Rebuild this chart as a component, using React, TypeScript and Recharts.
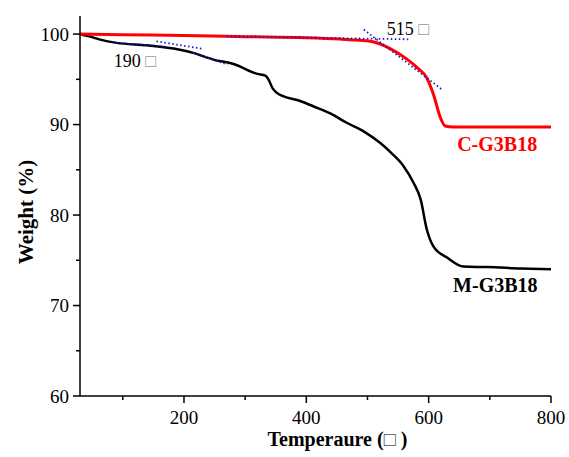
import React from 'react';
import { LineChart, Line, XAxis, YAxis, ReferenceDot } from 'recharts';

// M-G3B18 (black)
const mTemp = [30, 45, 63, 90, 139, 183, 205, 215, 248, 281, 320, 333, 338, 345, 352, 360, 390, 412, 440, 466, 495, 521, 540, 559, 575, 587, 597, 608, 630, 657, 696, 750, 800];
const mWeight = [100, 99.75, 99.39, 99.03, 98.76, 98.4, 98.1, 97.92, 97.18, 96.7, 95.6, 95.4, 95.0, 94.0, 93.5, 93.2, 92.6, 92.0, 91.2, 90.2, 89.2, 87.96, 86.8, 85.4, 83.6, 81.7, 78.4, 76.5, 75.3, 74.3, 74.25, 74.1, 74.0];

// C-G3B18 (red)
const cTemp = [30, 100, 200, 300, 400, 455, 480, 505, 537, 565, 581, 597, 608, 619, 627, 640, 700, 800];
const cWeight = [100, 99.93, 99.85, 99.72, 99.6, 99.45, 99.35, 99.2, 98.4, 97.2, 96.3, 95.15, 93.3, 90.8, 89.85, 89.73, 89.72, 89.72];

// onset tangent lines (blue dotted)
const tangents = [
  { t: [90, 169], w: [99.03, 98.62] },
  { t: [155, 232], w: [99.2, 98.36] },
  { t: [215, 271], w: [97.95, 96.63] },
  { t: [270, 570], w: [99.76, 99.42] },
  { t: [494, 622], w: [100.5, 93.86] },
];

const xTicks = [100, 200, 300, 400, 500, 600, 700, 800];
const yTicks = [60, 65, 70, 75, 80, 85, 90, 95, 100];
const frameTicks = [0, 1, 2, 3, 4, 5, 6, 7, 8, 9, 10];

const zip = (t: number[], w: number[]) => t.map((v, i) => ({ t: v, w: w[i] }));
const mData = zip(mTemp, mWeight);
const cData = zip(cTemp, cWeight);

const font = '"Liberation Serif", "Times New Roman", serif';

const XTick = ({ x, y, payload }: any) => {
  const major = payload.value % 200 === 0;
  return (
    <g>
      <line x1={x} x2={x} y1={y} y2={y + (major ? 7 : 4)} stroke="#000" strokeWidth={1.5} />
      {major && (
        <text x={x} y={y + 28} textAnchor="middle" fontSize={19} fontFamily={font} fill="#000">
          {payload.value}
        </text>
      )}
    </g>
  );
};

const YTick = ({ x, y, payload }: any) => {
  const major = payload.value % 10 === 0;
  return (
    <g>
      <line x1={x} x2={x - (major ? 7 : 4)} y1={y} y2={y} stroke="#000" strokeWidth={1.5} />
      {major && (
        <text x={x - 11} y={y} dy="0.35em" textAnchor="end" fontSize={19} fontFamily={font} fill="#000">
          {payload.value}
        </text>
      )}
    </g>
  );
};

const TopTick = ({ x, y }: any) => (
  <line x1={x} x2={x} y1={y} y2={y - 2} stroke="#000" strokeWidth={1.2} />
);

const RightTick = ({ x, y }: any) => (
  <line x1={x} x2={x + 3} y1={y} y2={y} stroke="#000" strokeWidth={1.2} />
);

const XTitle = ({ viewBox }: any) => (
  <text x={viewBox.x + viewBox.width / 2 + 22} y={viewBox.y + 50} textAnchor="middle" fontSize={20} fontWeight="bold" fontFamily={font} fill="#000">
    Temperaure (<tspan fill="#555" fontWeight="normal">□</tspan> )
  </text>
);

const YTitle = ({ viewBox }: any) => {
  const cx = 33;
  const cy = viewBox.y + viewBox.height / 2 + 6;
  return (
    <text x={cx} y={cy} transform={`rotate(-90, ${cx}, ${cy})`} textAnchor="middle" fontSize={21} fontWeight="bold" fontFamily={font} fill="#000">
      Weight (%)
    </text>
  );
};

const note = (text: string, color: string, bold: boolean, size: number, box: boolean) => ({ viewBox }: any) => (
  <text x={viewBox.x + viewBox.width / 2} y={viewBox.y + viewBox.height / 2} dy="0.35em" textAnchor="middle" fontSize={size} fontWeight={bold ? 'bold' : 'normal'} fontFamily={font} fill={color}>
    {text}
    {box && <tspan fill="#999"> □</tspan>}
  </text>
);

export default function App() {
  return (
    <div style={{ position: 'absolute', left: 0, top: 0, background: '#fff' }}>
      <LineChart width={569} height={457} margin={{ top: 16, right: 18, bottom: 0, left: 10 }}>
        <XAxis
          xAxisId="t"
          dataKey="t"
          type="number"
          domain={[30, 800]}
          ticks={xTicks}
          allowDataOverflow
          height={61}
          tickSize={0}
          tickMargin={0}
          tick={<XTick />}
          axisLine={{ stroke: '#000', strokeWidth: 1.5 }}
          label={{ content: XTitle }}
        />
        <XAxis
          xAxisId="top"
          orientation="top"
          type="number"
          domain={[0, 10]}
          ticks={frameTicks}
          allowDataOverflow
          height={0}
          tickSize={0}
          tickMargin={0}
          tick={<TopTick />}
          axisLine={{ stroke: '#000', strokeWidth: 1.5 }}
        />
        <YAxis
          yAxisId="w"
          type="number"
          domain={[60, 102]}
          ticks={yTicks}
          allowDataOverflow
          width={70}
          tickSize={0}
          tickMargin={0}
          tick={<YTick />}
          axisLine={{ stroke: '#000', strokeWidth: 1.5 }}
          label={{ content: YTitle }}
        />
        <YAxis
          yAxisId="right"
          orientation="right"
          type="number"
          domain={[0, 10]}
          ticks={frameTicks}
          allowDataOverflow
          width={0}
          tickSize={0}
          tickMargin={0}
          tick={<RightTick />}
          axisLine={{ stroke: '#000', strokeWidth: 1.5 }}
        />
        <Line xAxisId="t" yAxisId="w" data={mData} dataKey="w" type="monotone" stroke="#000" strokeWidth={2.5} dot={false} isAnimationActive={false} />
        <Line xAxisId="t" yAxisId="w" data={cData} dataKey="w" type="monotone" stroke="#ff0000" strokeWidth={3} dot={false} isAnimationActive={false} />
        {tangents.map((tg, i) => (
          <Line
            key={i}
            xAxisId="t"
            yAxisId="w"
            data={zip(tg.t, tg.w)}
            dataKey="w"
            type="linear"
            stroke="#1a1ad0"
            strokeWidth={1.8}
            strokeDasharray="1.5 2.5"
            dot={false}
            isAnimationActive={false}
          />
        ))}
        <ReferenceDot xAxisId="t" yAxisId="w" x={120} y={97.05} r={1} fill="none" stroke="none" label={{ content: note('190', '#000', false, 18, true) }} />
        <ReferenceDot xAxisId="t" yAxisId="w" x={566} y={100.6} r={1} fill="none" stroke="none" label={{ content: note('515', '#000', false, 18, true) }} />
        <ReferenceDot xAxisId="t" yAxisId="w" x={712} y={87.9} r={1} fill="none" stroke="none" label={{ content: note('C-G3B18', '#ff0000', true, 20, false) }} />
        <ReferenceDot xAxisId="t" yAxisId="w" x={709} y={72.3} r={1} fill="none" stroke="none" label={{ content: note('M-G3B18', '#000', true, 20, false) }} />
      </LineChart>
    </div>
  );
}
